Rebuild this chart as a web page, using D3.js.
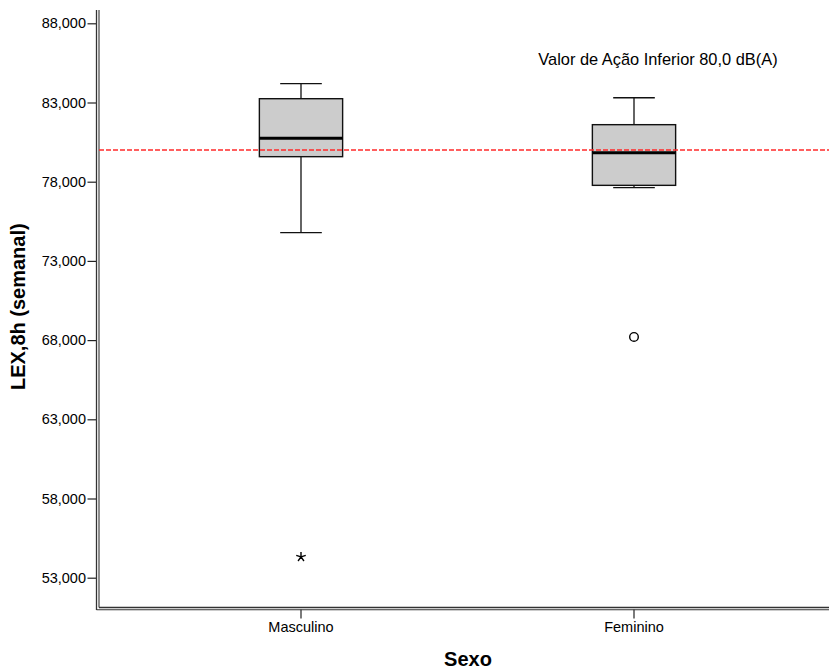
<!DOCTYPE html>
<html>
<head>
<meta charset="utf-8">
<script src="https://cdn.jsdelivr.net/npm/d3@7"></script>
<style>
  body { margin: 0; background: #fff; }
  text { font-family: "Liberation Sans", Arial, sans-serif; fill: #000; }
</style>
</head>
<body>
<div id="chart"></div>
<script>
// values
const categories = ['Masculino', 'Feminino'];
const whiskerLow = [74.78, 77.62];
const q1 = [79.58, 77.77];
const median = [80.74, 79.83];
const q3 = [83.24, 81.60];
const whiskerHigh = [84.19, 83.30];
const extremes = [[54.31], []];   // drawn as stars
const outliers = [[], [68.20]];   // drawn as circles
const yTicks = [53, 58, 63, 68, 73, 78, 83, 88];
const refValue = 80.0;
const refLabel = 'Valor de Ação Inferior 80,0 dB(A)';

const width = 829, height = 670;
const frameTop = 10, frameBottom = 607.5;

const svg = d3.select('#chart').append('svg')
  .attr('width', width)
  .attr('height', height);

const y = d3.scaleLinear().domain([53, 88]).range([577.7, 23.3]);
const x = d3.scaleBand().domain(categories)
  .range([134.5, 800.5])
  .paddingInner(0.75)
  .paddingOuter(0.375);

const fmt = v => d3.format('.3f')(v).replace('.', ',');

// y axis
const yAxis = svg.append('g')
  .attr('transform', 'translate(96.5,0)')
  .call(d3.axisLeft(y).tickValues(yTicks).tickFormat(fmt).tickSizeInner(9).tickSizeOuter(0).tickPadding(1.5));
yAxis.select('.domain').remove();
yAxis.selectAll('.tick line').attr('stroke', '#222').attr('stroke-width', 1.2);
yAxis.selectAll('.tick text').style('font-size', '14.5px').style('font-family', '"Liberation Sans", Arial, sans-serif').attr('fill', '#000');

// x axis
const xAxis = svg.append('g')
  .attr('transform', 'translate(0,609.5)')
  .call(d3.axisBottom(x).tickSizeInner(9).tickSizeOuter(0).tickPadding(3));
xAxis.select('.domain').remove();
xAxis.selectAll('.tick line').attr('stroke', '#222').attr('stroke-width', 1.2);
xAxis.selectAll('.tick text').style('font-size', '14.5px').style('font-family', '"Liberation Sans", Arial, sans-serif').attr('fill', '#000');

// double frame lines
const frame = svg.append('g').attr('stroke', '#333').attr('fill', 'none');
frame.append('line').attr('x1', 96.5).attr('x2', 96.5).attr('y1', frameTop).attr('y2', 610).attr('stroke-width', 1.3);
frame.append('line').attr('x1', 99).attr('x2', 99).attr('y1', frameTop).attr('y2', frameBottom).attr('stroke-width', 1.1);
frame.append('line').attr('x1', 99).attr('x2', width).attr('y1', frameBottom).attr('y2', frameBottom).attr('stroke-width', 1.3);
frame.append('line').attr('x1', 96.5).attr('x2', width).attr('y1', 609.8).attr('y2', 609.8).attr('stroke-width', 1.1);

// five-spoke asterisk used by SPSS for extreme values
const asterisk = d3.range(5).map(k => {
  const a = -Math.PI / 2 + k * 2 * Math.PI / 5;
  return 'M0,0L' + (5 * Math.cos(a)).toFixed(2) + ',' + (5 * Math.sin(a)).toFixed(2);
}).join('');

// boxes
const bw = x.bandwidth();
const boxes = svg.selectAll('.box')
  .data(categories)
  .enter()
  .append('g')
  .attr('class', 'box');

boxes.each(function (c, i) {
  const g = d3.select(this);
  const cx = x(c) + bw / 2;
  g.append('line')
    .attr('x1', cx).attr('x2', cx)
    .attr('y1', y(whiskerHigh[i])).attr('y2', y(q3[i]))
    .attr('stroke', '#111').attr('stroke-width', 1.3);
  g.append('line')
    .attr('x1', cx).attr('x2', cx)
    .attr('y1', y(q1[i])).attr('y2', y(whiskerLow[i]))
    .attr('stroke', '#111').attr('stroke-width', 1.3);
  [whiskerHigh[i], whiskerLow[i]].forEach(v => {
    g.append('line')
      .attr('x1', cx - bw / 4).attr('x2', cx + bw / 4)
      .attr('y1', y(v)).attr('y2', y(v))
      .attr('stroke', '#111').attr('stroke-width', 1.3);
  });
  g.append('rect')
    .attr('x', x(c)).attr('width', bw)
    .attr('y', y(q3[i])).attr('height', y(q1[i]) - y(q3[i]))
    .attr('fill', '#cccccc').attr('stroke', '#111').attr('stroke-width', 1.4);
  g.append('line')
    .attr('x1', x(c)).attr('x2', x(c) + bw)
    .attr('y1', y(median[i])).attr('y2', y(median[i]))
    .attr('stroke', '#000').attr('stroke-width', 3);

  extremes[i].forEach(v => {
    g.append('path')
      .attr('d', asterisk)
      .attr('transform', 'translate(' + cx + ',' + y(v) + ')')
      .attr('fill', 'none').attr('stroke', '#000').attr('stroke-width', 1.4);
  });
  outliers[i].forEach(v => {
    g.append('circle')
      .attr('cx', cx).attr('cy', y(v)).attr('r', 4.3)
      .attr('fill', '#fff').attr('stroke', '#000').attr('stroke-width', 1.4);
  });
});

// reference line
svg.append('line')
  .attr('x1', 99).attr('x2', width)
  .attr('y1', y(refValue)).attr('y2', y(refValue))
  .attr('stroke', '#ff2a2a').attr('stroke-width', 1.5)
  .attr('stroke-dasharray', '5,2');

svg.append('text')
  .attr('x', 538.3).attr('y', 65)
  .style('font-size', '16.4px')
  .text(refLabel);

// axis titles
svg.append('text')
  .attr('transform', 'translate(25,306.7) rotate(-90)')
  .attr('text-anchor', 'middle')
  .style('font-size', '20px').style('font-weight', 'bold')
  .text('LEX,8h (semanal)');

svg.append('text')
  .attr('x', 468).attr('y', 666)
  .attr('text-anchor', 'middle')
  .style('font-size', '20px').style('font-weight', 'bold')
  .text('Sexo');
</script>
</body>
</html>
